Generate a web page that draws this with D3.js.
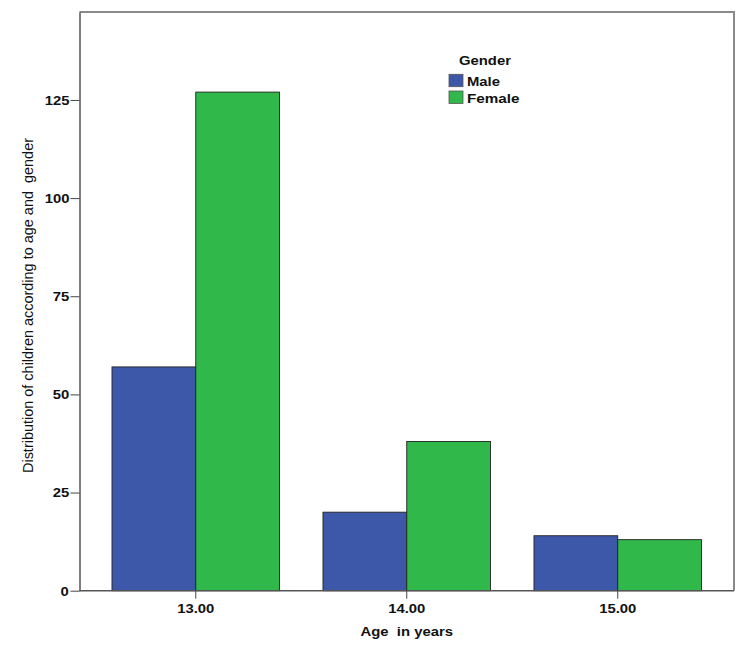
<!DOCTYPE html>
<html><head><meta charset="utf-8">
<script src="https://cdn.jsdelivr.net/npm/d3@7"></script>
<style>
body{margin:0;background:#fff;}
svg text{font-family:"Liberation Sans",Arial,sans-serif;fill:#111;}
.sx{transform-box:fill-box;transform-origin:center;transform:scaleX(1.1);}
</style></head>
<body><svg id="c" width="747" height="647"></svg>
<script>
const categories = ["13.00","14.00","15.00"];
const seriesNames = ["Male","Female"];
const maleValues = [57, 20, 14];
const femaleValues = [127, 38, 13];
const yTicks = [0, 25, 50, 75, 100, 125];
const colors = ["#3e58a9", "#30b84b"];

const svg = d3.select("#c");
const L = 79.5, R = 734, T = 12, B = 590.7;
const x = d3.scaleBand().domain(categories).range([L, R]).paddingInner(0.206).paddingOuter(0.154);
const xs = d3.scaleBand().domain(seriesNames).range([0, x.bandwidth()]);
const y = d3.scaleLinear().domain([0, 147.4]).range([B, T]);

svg.append("path").attr("d", `M${L},${T}H${R}V${B}`).attr("fill","none").attr("stroke","#8a8a8a").attr("stroke-width",2);

const data = categories.map((c,i)=>({cat:c, vals:[maleValues[i], femaleValues[i]]}));
const g = svg.append("g");
data.forEach(d=>{
  d.vals.forEach((v,j)=>{
    g.append("rect")
      .attr("x", x(d.cat)+xs(seriesNames[j]))
      .attr("y", y(v))
      .attr("width", xs.bandwidth())
      .attr("height", y(0)-y(v))
      .attr("fill", colors[j])
      .attr("stroke", "#222").attr("stroke-width", 0.9);
  });
});

const ya = svg.append("g").attr("transform",`translate(${L},0)`)
  .call(d3.axisLeft(y).tickValues(yTicks).tickFormat(d3.format("d")).tickSize(9).tickSizeOuter(0).tickPadding(2));
ya.select(".domain").attr("stroke","#555").attr("stroke-width",1.5);
ya.selectAll(".tick line").attr("stroke","#444");
ya.selectAll(".tick text").attr("font-size",13.5).attr("font-weight","bold").attr("fill","#111").attr("class","sx");

const xa = svg.append("g").attr("transform",`translate(0,${B})`)
  .call(d3.axisBottom(x).tickSize(8).tickPadding(5).tickSizeOuter(0));
xa.select(".domain").attr("stroke","#555").attr("stroke-width",1.5).attr("d",`M${L},0H${R}`);
xa.selectAll(".tick line").attr("stroke","#444");
xa.selectAll(".tick text").attr("font-size",13.5).attr("font-weight","bold").attr("fill","#111").attr("class","sx");

svg.append("text").attr("x",(L+R)/2).attr("y",636).attr("text-anchor","middle")
  .attr("font-size",13.5).attr("font-weight","bold").attr("class","sx").attr("xml:space","preserve").text("Age  in years");
svg.append("text").attr("transform","translate(33,305.5) rotate(-90)").attr("text-anchor","middle")
  .attr("font-size",14).attr("textLength",335).attr("lengthAdjust","spacingAndGlyphs")
  .attr("xml:space","preserve").text("Distribution of children according to age and  gender");

const lg = svg.append("g");
lg.append("text").attr("x",485).attr("y",65).attr("text-anchor","middle").attr("font-size",13.5).attr("font-weight","bold").attr("class","sx").text("Gender");
seriesNames.forEach((s,i)=>{
  const yy = 74.3 + i*16.7;
  lg.append("rect").attr("x",449).attr("y",yy).attr("width",14).attr("height",12.4).attr("fill",colors[i]).attr("stroke","#555").attr("stroke-width",0.8);
  lg.append("text").attr("x",467).attr("y",yy+11.5).attr("font-size",13.5).attr("font-weight","bold")
    .attr("textLength", i===0?33:52.5).attr("lengthAdjust","spacingAndGlyphs").text(s);
});
</script></body></html>
